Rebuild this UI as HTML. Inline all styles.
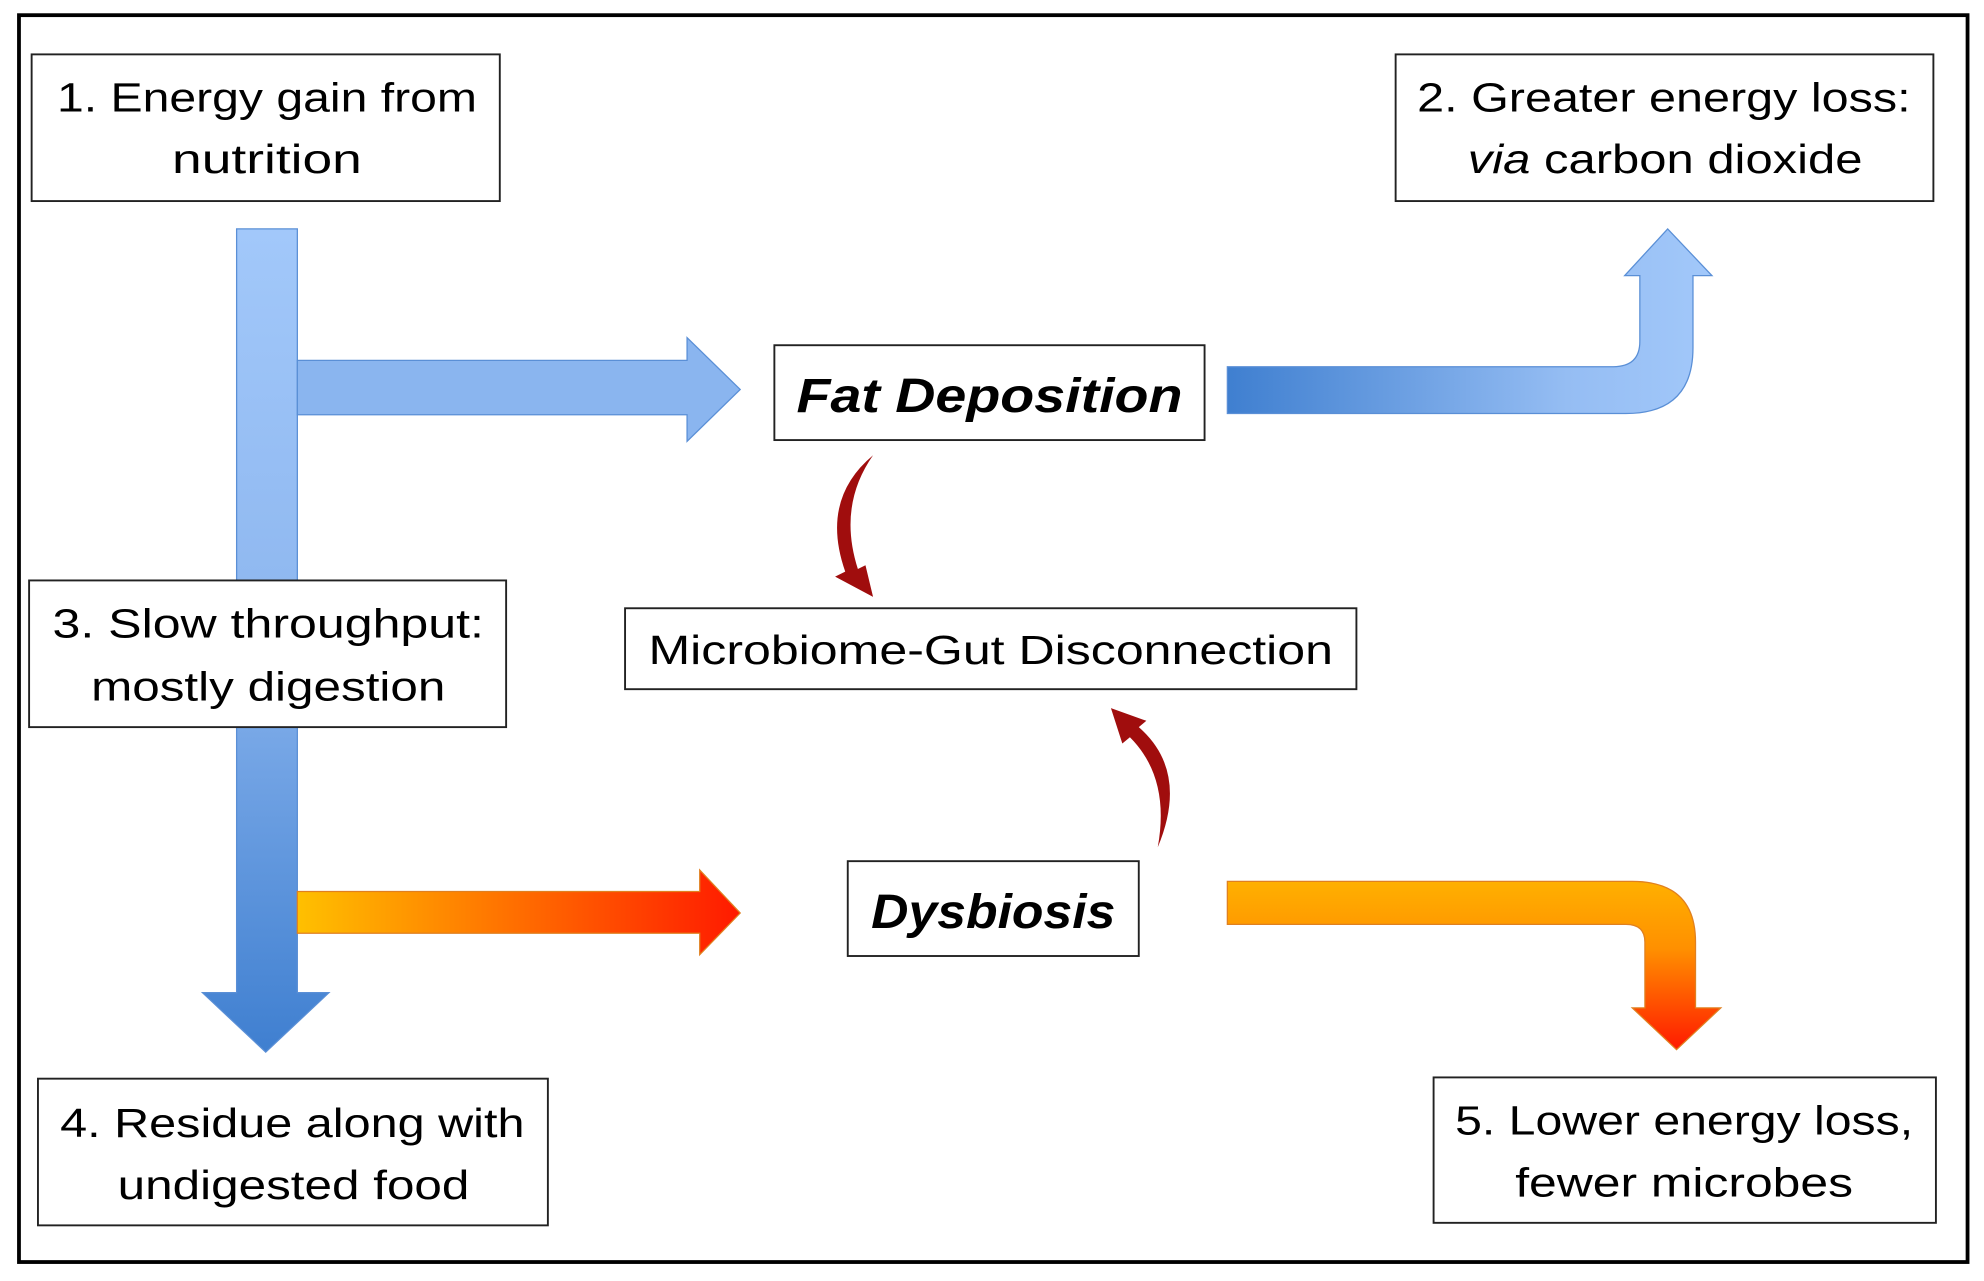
<!DOCTYPE html>
<html><head><meta charset="utf-8"><style>html,body{margin:0;padding:0;background:#fff}svg{display:block}</style></head><body>
<svg width="1984" height="1281" viewBox="0 0 1568 1013" preserveAspectRatio="none" xmlns="http://www.w3.org/2000/svg" font-family="'Liberation Sans', sans-serif">
<defs>
<linearGradient id="bv" x1="0" y1="0" x2="0" y2="1"><stop offset="0" stop-color="#a2c8fa"/><stop offset="0.45" stop-color="#8fb8f0"/><stop offset="1" stop-color="#3f7fd0"/></linearGradient>
<linearGradient id="bh" x1="0" y1="0" x2="1" y2="0"><stop offset="0" stop-color="#8ab5ef"/><stop offset="1" stop-color="#8ab5ef"/></linearGradient>
<linearGradient id="bb" x1="0" y1="0" x2="1" y2="0"><stop offset="0" stop-color="#3f7fd0"/><stop offset="0.7" stop-color="#95bdf3"/><stop offset="1" stop-color="#a2c8fa"/></linearGradient>
<linearGradient id="oh" x1="0" y1="0" x2="1" y2="0"><stop offset="0" stop-color="#ffc000"/><stop offset="1" stop-color="#ff1a00"/></linearGradient>
<linearGradient id="ob" x1="0" y1="0" x2="0" y2="1"><stop offset="0" stop-color="#ffb000"/><stop offset="0.4" stop-color="#ff9000"/><stop offset="1" stop-color="#ff1a00"/></linearGradient>
</defs>
<rect x="15" y="12" width="1540" height="986" fill="#fff" stroke="#000" stroke-width="3"/>
<!-- blue vertical -->
<polygon points="187,181 235,181 235,785 260,785 210,832 160,785 187,785" fill="url(#bv)" stroke="#5a8fd6" stroke-width="1"/>
<!-- blue horizontal -->
<polygon points="235,285 543,285 543,267 585,308 543,349 543,328 235,328" fill="url(#bh)" stroke="#5a8fd6" stroke-width="1"/>
<!-- orange horizontal -->
<polygon points="235,705 553,705 553,688 585,722 553,755 553,738 235,738" fill="url(#oh)" stroke="#e08020" stroke-width="1"/>
<!-- blue bent -->
<path d="M970,290 L1275,290 Q1296,290 1296,270 L1296,218 L1284,218 L1318,181 L1353,218 L1338,218 L1338,275 Q1338,327 1285,327 L970,327 Z" fill="url(#bb)" stroke="#5a8fd6" stroke-width="1"/>
<!-- orange bent -->
<path d="M970,697 L1290,697 Q1340,697 1340,745 L1340,797 L1360,797 L1325,830 L1290,797 L1300,797 L1300,745 Q1300,731 1285,731 L970,731 Z" fill="url(#ob)" stroke="#e08020" stroke-width="1"/>
<!-- red curved arrows -->
<path d="M690,360 Q648,395 668,452 L660,456 L690,472 L684,447 L678,450 Q662,400 690,360 Z" fill="#a00d0d"/>
<path d="M915,670 Q940,610 900,575 L906,570 L878,560 L887,588 L893,583 Q925,615 915,670 Z" fill="#a00d0d"/>
<g fill="#fff" stroke="#222" stroke-width="1.5">
<rect x="25" y="43" width="370" height="116"/>
<rect x="1103" y="43" width="425" height="116"/>
<rect x="612" y="273" width="340" height="75"/>
<rect x="494" y="481" width="578" height="64"/>
<rect x="23" y="459" width="377" height="116"/>
<rect x="670" y="681" width="230" height="75"/>
<rect x="30" y="853" width="403" height="116"/>
<rect x="1133" y="852" width="397" height="115"/>
</g>
<g fill="#000" font-size="32" text-anchor="middle">
<text x="211" y="88" textLength="332" lengthAdjust="spacingAndGlyphs">1. Energy gain from</text>
<text x="211" y="137" textLength="150" lengthAdjust="spacingAndGlyphs">nutrition</text>
<text x="1315" y="88" textLength="390" lengthAdjust="spacingAndGlyphs">2. Greater energy loss:</text>
<text x="1316" y="137" textLength="312" lengthAdjust="spacingAndGlyphs"><tspan font-style="italic">via</tspan> carbon dioxide</text>
<text x="782" y="326" font-weight="bold" font-style="italic" font-size="38" textLength="305" lengthAdjust="spacingAndGlyphs">Fat Deposition</text>
<text x="783" y="525" textLength="541" lengthAdjust="spacingAndGlyphs">Microbiome-Gut Disconnection</text>
<text x="212" y="504" textLength="341" lengthAdjust="spacingAndGlyphs">3. Slow throughput:</text>
<text x="212" y="554" textLength="280" lengthAdjust="spacingAndGlyphs">mostly digestion</text>
<text x="785" y="734" font-weight="bold" font-style="italic" font-size="38" textLength="193" lengthAdjust="spacingAndGlyphs">Dysbiosis</text>
<text x="231" y="899" textLength="367" lengthAdjust="spacingAndGlyphs">4. Residue along with</text>
<text x="232" y="948" textLength="278" lengthAdjust="spacingAndGlyphs">undigested food</text>
<text x="1331" y="897" textLength="362" lengthAdjust="spacingAndGlyphs">5. Lower energy loss,</text>
<text x="1331" y="946" textLength="267" lengthAdjust="spacingAndGlyphs">fewer microbes</text>
</g>
</svg>
</body></html>
